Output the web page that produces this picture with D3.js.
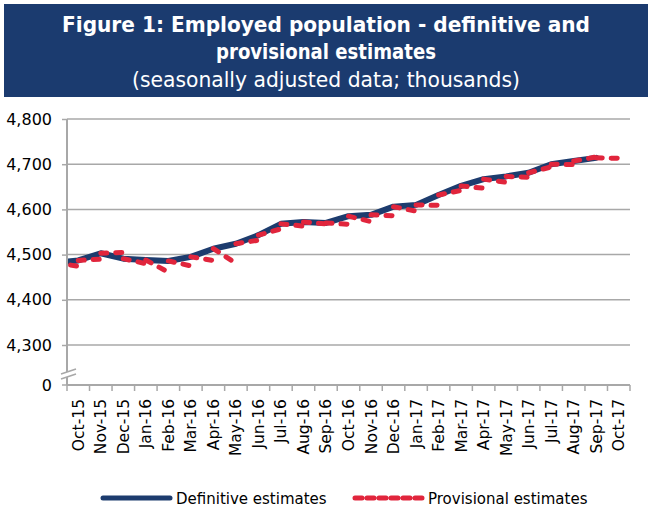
<!DOCTYPE html>
<html>
<head>
<meta charset="utf-8">
<script src="https://cdn.jsdelivr.net/npm/d3@7"></script>
<style>
  body { margin: 0; background: #fff; }
  svg { display: block; font-family: "DejaVu Sans", Verdana, sans-serif; }
</style>
</head>
<body>
<div class="container"></div>
<script>
// months on the axis
const months = ["Oct-15","Nov-15","Dec-15","Jan-16","Feb-16","Mar-16","Apr-16","May-16","Jun-16",
  "Jul-16","Aug-16","Sep-16","Oct-16","Nov-16","Dec-16","Jan-17","Feb-17","Mar-17","Apr-17",
  "May-17","Jun-17","Jul-17","Aug-17","Sep-17","Oct-17"];

// definitive estimates, Sep-15 .. Sep-17 (first value sits one month before the axis)
const definitive = [4482, 4487, 4503, 4491, 4488, 4486, 4495, 4513, 4524, 4543, 4568, 4572, 4570,
  4585, 4588, 4606, 4610, 4632, 4652, 4667, 4673, 4681, 4700, 4707, 4714];

// provisional estimates, Oct-15 .. Oct-17
const provisional = [4474, 4490, 4505, 4480, 4461, 4475, 4487, 4481, 4532, 4557, 4563, 4568, 4567,
  4573, 4586, 4596, 4609, 4642, 4647, 4660, 4671, 4694, 4699, 4716, 4713];

const yTicks = [4300, 4400, 4500, 4600, 4700, 4800];

const W = 652, H = 510;
const plot = { left: 67, right: 630, top: 119, bottom: 385 };
const blue = "#1d3c6e", red = "#e1253c", grey = "#a8a8a8";

const svg = d3.select(".container").append("svg")
    .attr("width", W)
    .attr("height", H);

// title banner
svg.append("rect")
    .attr("x", 4).attr("y", 4).attr("width", 644).attr("height", 93)
    .attr("fill", "#1b3b6f");

const titles = [
  { t: "Figure 1: Employed population - definitive and", y: 32, w: "bold", s: 21, len: 528 },
  { t: "provisional estimates", y: 59, w: "bold", s: 21, len: 220 },
  { t: "(seasonally adjusted data; thousands)", y: 87, w: "normal", s: 20.5, len: 388 }
];
svg.selectAll(".title").data(titles).enter().append("text")
    .attr("class", "title")
    .attr("x", 326).attr("y", d => d.y)
    .attr("text-anchor", "middle")
    .attr("fill", "#fff")
    .attr("font-weight", d => d.w)
    .attr("font-size", d => d.s)
    .attr("textLength", d => d.len)
    .attr("lengthAdjust", "spacingAndGlyphs")
    .text(d => d.t);

const x = d3.scaleLinear().domain([-0.5, months.length - 0.5]).range([plot.left, plot.right]);
const y = d3.scaleLinear().domain([4300, 4800]).range([345, plot.top]);

// gridlines
svg.append("g").selectAll("line").data(yTicks).enter().append("line")
    .attr("x1", plot.left).attr("x2", plot.right)
    .attr("y1", d => y(d)).attr("y2", d => y(d))
    .attr("stroke", grey).attr("stroke-width", 1.5);

// y axis (with the zero label at the bottom, below a break)
const yAxis = d3.axisLeft(y).tickValues(yTicks).tickSize(5).tickPadding(10)
    .tickFormat(d3.format(","));
const gy = svg.append("g")
    .attr("transform", `translate(${plot.left},0)`)
    .call(yAxis);
gy.select(".domain").remove();
gy.selectAll(".tick line").attr("stroke", grey).attr("stroke-width", 1.5);
gy.selectAll(".tick text").attr("font-size", 16).attr("fill", "#000")
    .attr("font-family", "DejaVu Sans");

svg.append("line")
    .attr("x1", plot.left).attr("x2", plot.left)
    .attr("y1", plot.top).attr("y2", plot.bottom)
    .attr("stroke", grey).attr("stroke-width", 2);
svg.append("line")
    .attr("x1", plot.left - 5).attr("x2", plot.left)
    .attr("y1", plot.bottom).attr("y2", plot.bottom)
    .attr("stroke", grey).attr("stroke-width", 1.5);
svg.append("text")
    .attr("x", plot.left - 15).attr("y", plot.bottom + 6)
    .attr("text-anchor", "end")
    .attr("font-size", 16)
    .text("0");

// axis break
svg.append("path")
    .attr("d", `M${plot.left - 6},374 L${plot.left + 9},369 L${plot.left + 9},374 L${plot.left - 6},379 Z`)
    .attr("fill", "#fff");
[0, 5].forEach(o => {
  svg.append("line")
      .attr("x1", plot.left - 6).attr("y1", 374 + o)
      .attr("x2", plot.left + 9).attr("y2", 369 + o)
      .attr("stroke", grey).attr("stroke-width", 1.5);
});

// x axis
svg.append("line")
    .attr("x1", plot.left).attr("x2", plot.right)
    .attr("y1", plot.bottom).attr("y2", plot.bottom)
    .attr("stroke", grey).attr("stroke-width", 2);
svg.append("g").selectAll("line").data(d3.range(months.length + 1)).enter().append("line")
    .attr("x1", d => x(d - 0.5)).attr("x2", d => x(d - 0.5))
    .attr("y1", plot.bottom).attr("y2", plot.bottom + 6)
    .attr("stroke", grey).attr("stroke-width", 1.5);
svg.append("g").selectAll("text").data(months).enter().append("text")
    .attr("transform", (d, i) => `translate(${x(i) + 5.5},${plot.bottom + 14}) rotate(-90)`)
    .attr("text-anchor", "end")
    .attr("font-size", 15.5)
    .text(d => d);

// lines, clipped to the plot area
svg.append("clipPath").attr("id", "clip").append("rect")
    .attr("x", plot.left + 1).attr("y", 0)
    .attr("width", plot.right - plot.left).attr("height", H);
const lines = svg.append("g").attr("clip-path", "url(#clip)");

const line = d3.line().x(d => x(d[0])).y(d => y(d[1]));

lines.append("path")
    .datum(definitive.map((v, i) => [i - 1, v]))
    .attr("d", line)
    .attr("fill", "none")
    .attr("stroke", blue).attr("stroke-width", 6)
    .attr("stroke-linejoin", "round").attr("stroke-linecap", "round");

// each provisional estimate is joined to the previous month's definitive value
lines.selectAll(".prov").data(provisional).enter().append("path")
    .attr("class", "prov")
    .attr("d", (v, i) => line([[i - 1, definitive[i]], [i, v]]))
    .attr("fill", "none")
    .attr("stroke", red).attr("stroke-width", 5)
    .attr("stroke-dasharray", "6,9")
    .attr("stroke-linecap", "round");

// legend
const legend = [
  { name: "Definitive estimates", x: 103, color: blue, width: 5, dash: null },
  { name: "Provisional estimates", x: 355, color: red, width: 5, dash: "7,5" }
];
const lg = svg.selectAll(".legend").data(legend).enter().append("g")
    .attr("class", "legend")
    .attr("transform", d => `translate(${d.x},498)`);
lg.append("line")
    .attr("x1", 0).attr("x2", 67)
    .attr("stroke", d => d.color).attr("stroke-width", d => d.width)
    .attr("stroke-dasharray", d => d.dash)
    .attr("stroke-linecap", "round");
lg.append("text")
    .attr("x", 73).attr("y", 6)
    .attr("font-size", 15)
    .text(d => d.name);
</script>
</body>
</html>
